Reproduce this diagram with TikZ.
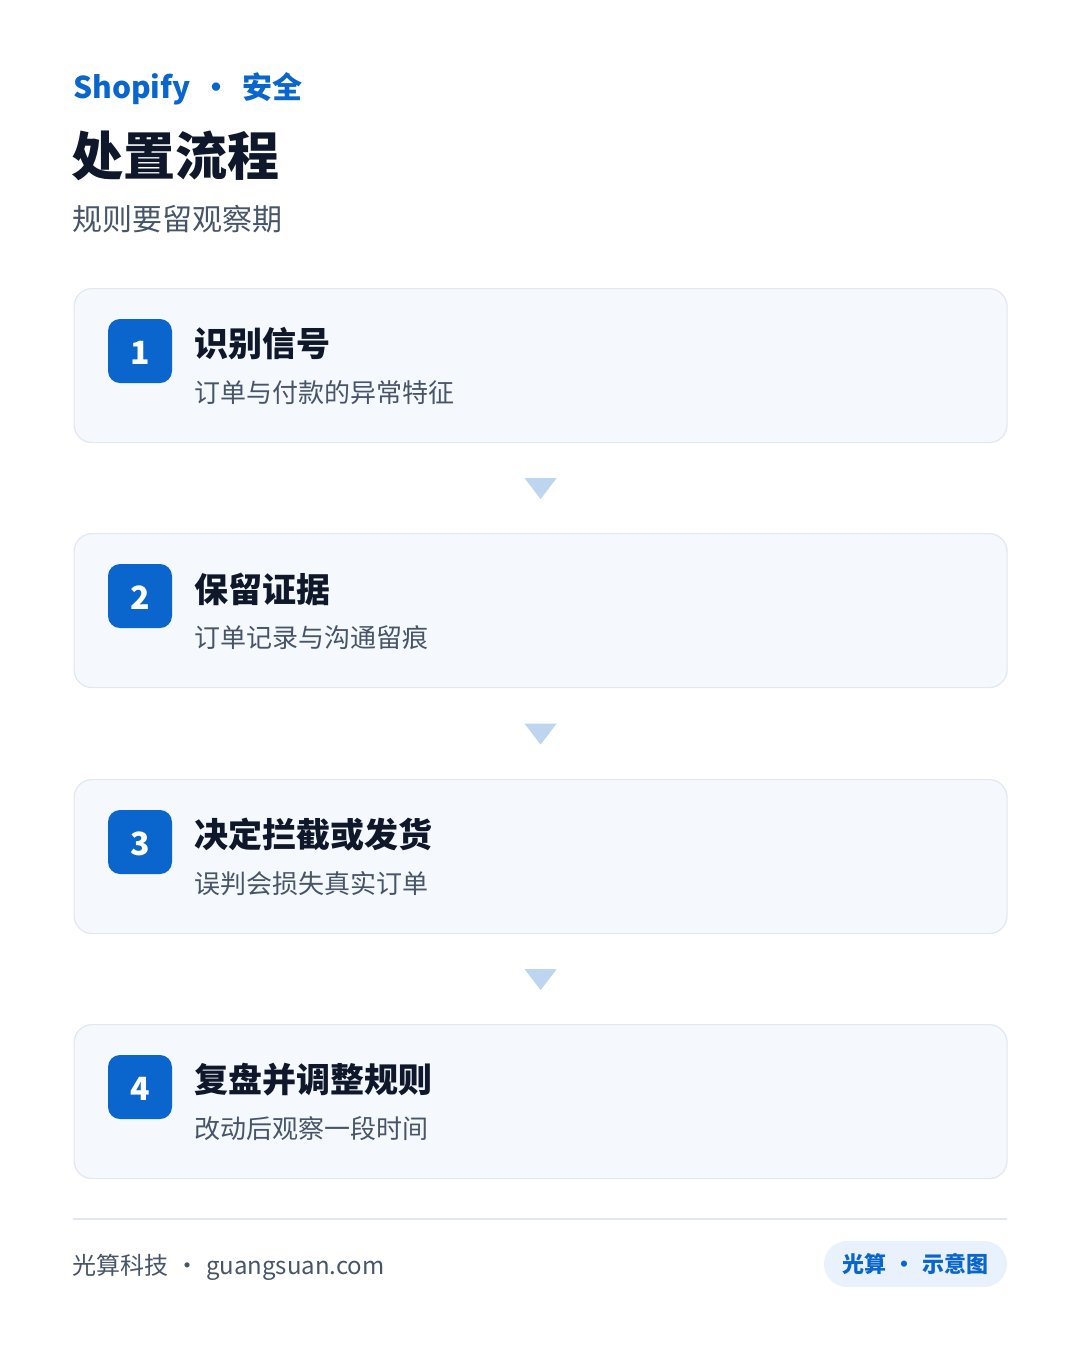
\documentclass[tikz,border=0pt]{standalone}
\usepackage{fontspec}
\setmainfont{Noto Sans CJK SC}
\usetikzlibrary{calc}
\definecolor{brand}{HTML}{0A66CC}
\definecolor{ink}{HTML}{0F172A}
\definecolor{muted}{HTML}{475569}
\definecolor{cardfill}{HTML}{F5F8FD}
\definecolor{cardline}{HTML}{E2E8F0}
\definecolor{tri}{HTML}{BDD5EE}
\definecolor{pillfill}{HTML}{E8F1FC}
\tikzset{
  cardbox/.style={draw=cardline, line width=1.2pt, fill=cardfill, rounded corners=18pt,
    minimum width=933pt, minimum height=154pt, inner sep=0pt, anchor=north west},
  badge/.style={fill=brand, rounded corners=12pt, minimum width=64pt, minimum height=64pt,
    inner sep=0pt, text=white, font=\fontsize{32}{32}\selectfont\bfseries},
  steptitle/.style={anchor=west, inner sep=0pt, text=ink, font=\fontsize{34}{34}\selectfont\bfseries},
  stepsub/.style={anchor=west, inner sep=0pt, text=muted, font=\fontsize{26}{26}\selectfont},
  tribox/.style={fill=tri},
}
\begin{document}
\begin{tikzpicture}[x=1pt,y=-1pt]
\useasboundingbox[fill=white] (0,0) rectangle (1080,1350);
% header
\node[anchor=base west, inner sep=0pt, text=brand, font=\fontsize{30}{30}\selectfont\bfseries] (kick) at (73,98) {Shopify\hspace{11pt}·\hspace{11pt}安全};
\node[anchor=west, inner sep=0pt, text=ink, font=\fontsize{52}{52}\selectfont\bfseries] (title) at (71,156) {处置流程};
\node[anchor=west, inner sep=0pt, text=muted, font=\fontsize{30}{30}\selectfont] (sub) at (72,219) {规则要留观察期};
% cards
\foreach \i/\top/\t/\s in {1/288/识别信号/订单与付款的异常特征, 2/533/保留证据/订单记录与沟通留痕, 3/779/决定拦截或发货/误判会损失真实订单, 4/1024/复盘并调整规则/改动后观察一段时间}{
  \node[cardbox] (c\i) at (73.5,\top) {};
  \node[badge] (b\i) at (140,\top+63) {};
  \node[inner sep=0pt, text=white, font=\fontsize{32}{32}\selectfont\bfseries] (n\i) at (140,\top+65) {\i};
  \node[steptitle] (t\i) at (194,\top+56) {\t};
  \node[stepsub] (s\i) at (194,\top+105) {\s};
}
% arrows between cards
\foreach \a/\b in {1/2,2/3,3/4}{
  \coordinate (m\a) at ($(c\a.south)!0.5!(c\b.north)$);
  \fill[tribox] ($(m\a)+(-16,-10)$) -- ($(m\a)+(16,-10)$) -- ($(m\a)+(0,11)$) -- cycle;
}
% footer
\coordinate (fl) at (73,1219);
\coordinate (fr) at (1007,1219);
\draw[cardline, line width=2pt] (fl) -- (fr);
\node[anchor=base west, inner sep=0pt, text=muted, font=\fontsize{24}{24}\selectfont] (foot) at (72,1274) {光算科技\hspace{7pt}·\hspace{7pt}guangsuan.com};
\node[fill=pillfill, rounded corners=23pt, minimum width=183pt, minimum height=46pt, inner sep=0pt, text=brand, font=\fontsize{22}{22}\selectfont\bfseries] (pill) at (915.5,1264) {光算\hspace{7pt}·\hspace{7pt}示意图};
\end{tikzpicture}
\end{document}
